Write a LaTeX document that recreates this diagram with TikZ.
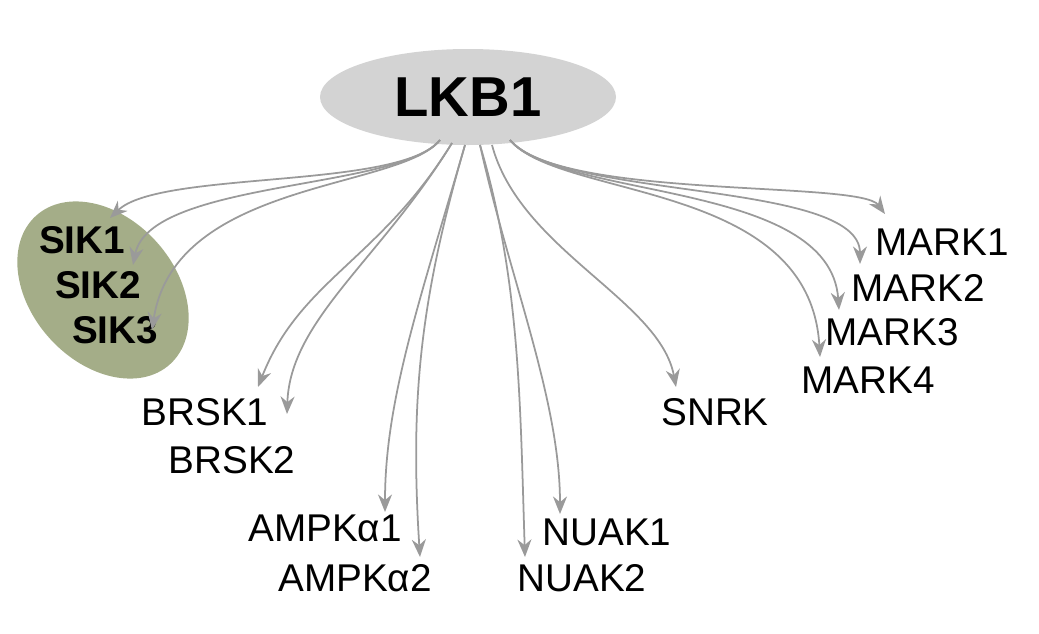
\documentclass[tikz,border=0pt]{standalone}
\usepackage{fontspec}
\setmainfont{Liberation Sans}
\usetikzlibrary{arrows.meta}
\definecolor{hubgray}{HTML}{D3D3D3}
\definecolor{sikgreen}{HTML}{A4AD88}
\definecolor{arrgray}{HTML}{9A9A9A}
\tikzset{
  kin/.style={font=\fontsize{11}{13}\selectfont, inner sep=0pt},
  sik/.style={font=\bfseries\fontsize{11}{13}\selectfont, inner sep=0pt},
  link/.style={draw=arrgray, line width=0.5pt, -{Stealth[length=5pt,width=4pt]}}
}
\begin{document}
\begin{tikzpicture}[x=0.01cm,y=-0.01cm]
  \useasboundingbox (0,0) rectangle (1039,633);

  % hub and SIK family
  \fill[hubgray] (468,97) ellipse [x radius=148, y radius=48];
  \node[font=\bfseries\fontsize{16}{18}\selectfont] (lkb) at (468,97) {LKB1};
  \fill[sikgreen, rotate around={-48:(103,290)}] (103,290) ellipse [x radius=100, y radius=72];

  % labels
  \node[sik] (sik1) at (82,240) {SIK1};
  \node[sik] (sik2) at (98,285) {SIK2};
  \node[sik] (sik3) at (115,330) {SIK3};
  \node[kin] (brsk1) at (205,412) {BRSK1};
  \node[kin] (brsk2) at (232,460) {BRSK2};
  \node[kin] (ampk1) at (325,528) {AMPKα1};
  \node[kin] (ampk2) at (355,578) {AMPKα2};
  \node[kin] (nuak1) at (607,532) {NUAK1};
  \node[kin] (nuak2) at (582,578) {NUAK2};
  \node[kin] (snrk) at (715,412) {SNRK};
  \node[kin] (mark1) at (942,242) {MARK1};
  \node[kin] (mark2) at (918,288) {MARK2};
  \node[kin] (mark3) at (892,332) {MARK3};
  \node[kin] (mark4) at (868,380) {MARK4};

  % arrow ends
  \coordinate (e1) at (110,218);
  \coordinate (e2) at (133,265);
  \coordinate (e3) at (152,330);
  \coordinate (b1) at (258,387);
  \coordinate (b2) at (287,414);
  \coordinate (a1) at (385,512);
  \coordinate (a2) at (420,557);
  \coordinate (n1) at (560,514);
  \coordinate (n2) at (525,557);
  \coordinate (s1) at (676,387);
  \coordinate (m1) at (885,214);
  \coordinate (m2) at (860,264);
  \coordinate (m3) at (839,310);
  \coordinate (m4) at (820,357);

  % connectors
  \draw[link] (440,140) .. controls (400,190) and (160,170) .. (e1);
  \draw[link] (440,140) .. controls (400,190) and (150,180) .. (e2);
  \draw[link] (440,140) .. controls (400,190) and (175,180) .. (e3);
  \draw[link] (452,143) .. controls (380,260) and (300,280) .. (b1);
  \draw[link] (452,143) .. controls (380,260) and (290,320) .. (b2);
  \draw[link] (465,145) .. controls (420,300) and (385,400) .. (a1);
  \draw[link] (465,145) .. controls (420,300) and (410,400) .. (a2);
  \draw[link] (480,145) .. controls (510,280) and (560,400) .. (n1);
  \draw[link] (480,145) .. controls (520,280) and (520,400) .. (n2);
  \draw[link] (492,145) .. controls (520,250) and (660,300) .. (s1);
  \draw[link] (510,140) .. controls (560,200) and (860,180) .. (m1);
  \draw[link] (510,140) .. controls (560,200) and (860,180) .. (m2);
  \draw[link] (510,140) .. controls (560,200) and (830,180) .. (m3);
  \draw[link] (510,140) .. controls (560,200) and (810,180) .. (m4);
\end{tikzpicture}
\end{document}
